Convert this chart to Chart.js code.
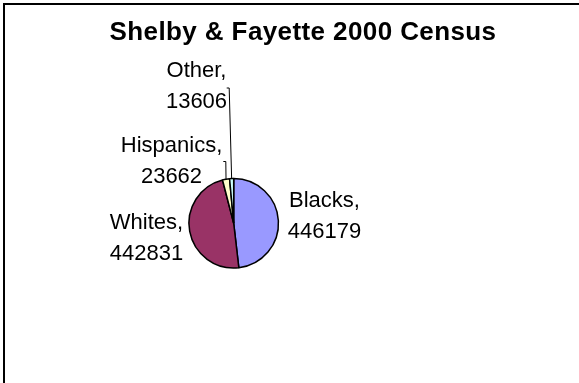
<!DOCTYPE html>
<html>
<head>
<meta charset="utf-8">
<script src="https://cdn.jsdelivr.net/npm/chart.js@4.4.1/dist/chart.umd.min.js"></script>
<style>
  html, body { margin: 0; padding: 0; background: #fff; overflow: hidden; }
  canvas { display: block; }
</style>
</head>
<body>
<canvas id="censusPie" width="579" height="383"></canvas>
<script>
const chartTitle = "Shelby & Fayette 2000 Census";
const groups = ["Blacks", "Whites", "Hispanics", "Other"];
const population = [446179, 442831, 23662, 13606];
const sliceColors = ["#9999FF", "#993366", "#FFFFCC", "#CCFFFF"];

// where each two-line label sits (centre x, first baseline), plus leader line start if any
const labelSpots = [
  { x: 324.5, y: 207, lead: null },
  { x: 146.5, y: 228.5, lead: null },
  { x: 171.5, y: 152, lead: [223.3, 161.5] },
  { x: 196.5, y: 77, lead: [226.7, 88] }
];

const labelPlugin = {
  id: "censusLabels",
  beforeDraw(chart) {
    // chart frame: only its top and left edges fall inside the picture
    const ctx = chart.ctx;
    ctx.save();
    ctx.fillStyle = "#fff";
    ctx.fillRect(0, 0, chart.width, chart.height);
    ctx.strokeStyle = "#000";
    ctx.lineWidth = 2;
    ctx.beginPath();
    ctx.moveTo(4, chart.height + 2);
    ctx.lineTo(4, 4);
    ctx.lineTo(chart.width + 2, 4);
    ctx.stroke();
    ctx.restore();
  },
  afterDraw(chart) {
    const ctx = chart.ctx;
    const meta = chart.getDatasetMeta(0);

    // title
    ctx.save();
    ctx.fillStyle = "#000";
    ctx.font = "bold 26px 'Liberation Sans', Arial, sans-serif";
    ctx.textAlign = "center";
    ctx.textBaseline = "alphabetic";
    if ("letterSpacing" in ctx) ctx.letterSpacing = "0.4px";
    ctx.fillText(chartTitle, 303, 40);
    if ("letterSpacing" in ctx) ctx.letterSpacing = "0px";
    ctx.restore();

    // data labels with leader lines
    ctx.save();
    ctx.font = "22px 'Liberation Sans', Arial, sans-serif";
    ctx.fillStyle = "#000";
    ctx.textAlign = "center";
    ctx.textBaseline = "alphabetic";
    meta.data.forEach((arc, i) => {
      const spot = labelSpots[i];
      ctx.fillText(groups[i] + ",", spot.x, spot.y);
      ctx.fillText(String(population[i]), spot.x, spot.y + 31);
      if (spot.lead) {
        const p = arc.getProps(["x", "y", "startAngle", "endAngle", "outerRadius"], true);
        const mid = (p.startAngle + p.endAngle) / 2;
        const ex = p.x + Math.cos(mid) * p.outerRadius;
        const ey = p.y + Math.sin(mid) * p.outerRadius;
        ctx.beginPath();
        ctx.strokeStyle = "#000";
        ctx.lineWidth = 1;
        ctx.moveTo(spot.lead[0], spot.lead[1]);
        ctx.lineTo(spot.lead[0] + 2.5, spot.lead[1]);
        ctx.lineTo(ex, ey);
        ctx.stroke();
      }
    });
    ctx.restore();
  }
};

const config = {
  type: "pie",
  data: {
    labels: groups,
    datasets: [{
      data: population,
      backgroundColor: sliceColors,
      borderColor: "#000",
      borderWidth: 1.5
    }]
  },
  options: {
    responsive: false,
    animation: false,
    devicePixelRatio: 1,
    layout: {
      padding: { left: 188.2, right: 299.8, top: 177.8, bottom: 114.2 }
    },
    plugins: {
      legend: { display: false },
      tooltip: { enabled: false },
      title: { display: false }
    }
  },
  plugins: [labelPlugin]
};

const censusChart = new Chart(document.getElementById("censusPie"), config);
</script>
</body>
</html>
